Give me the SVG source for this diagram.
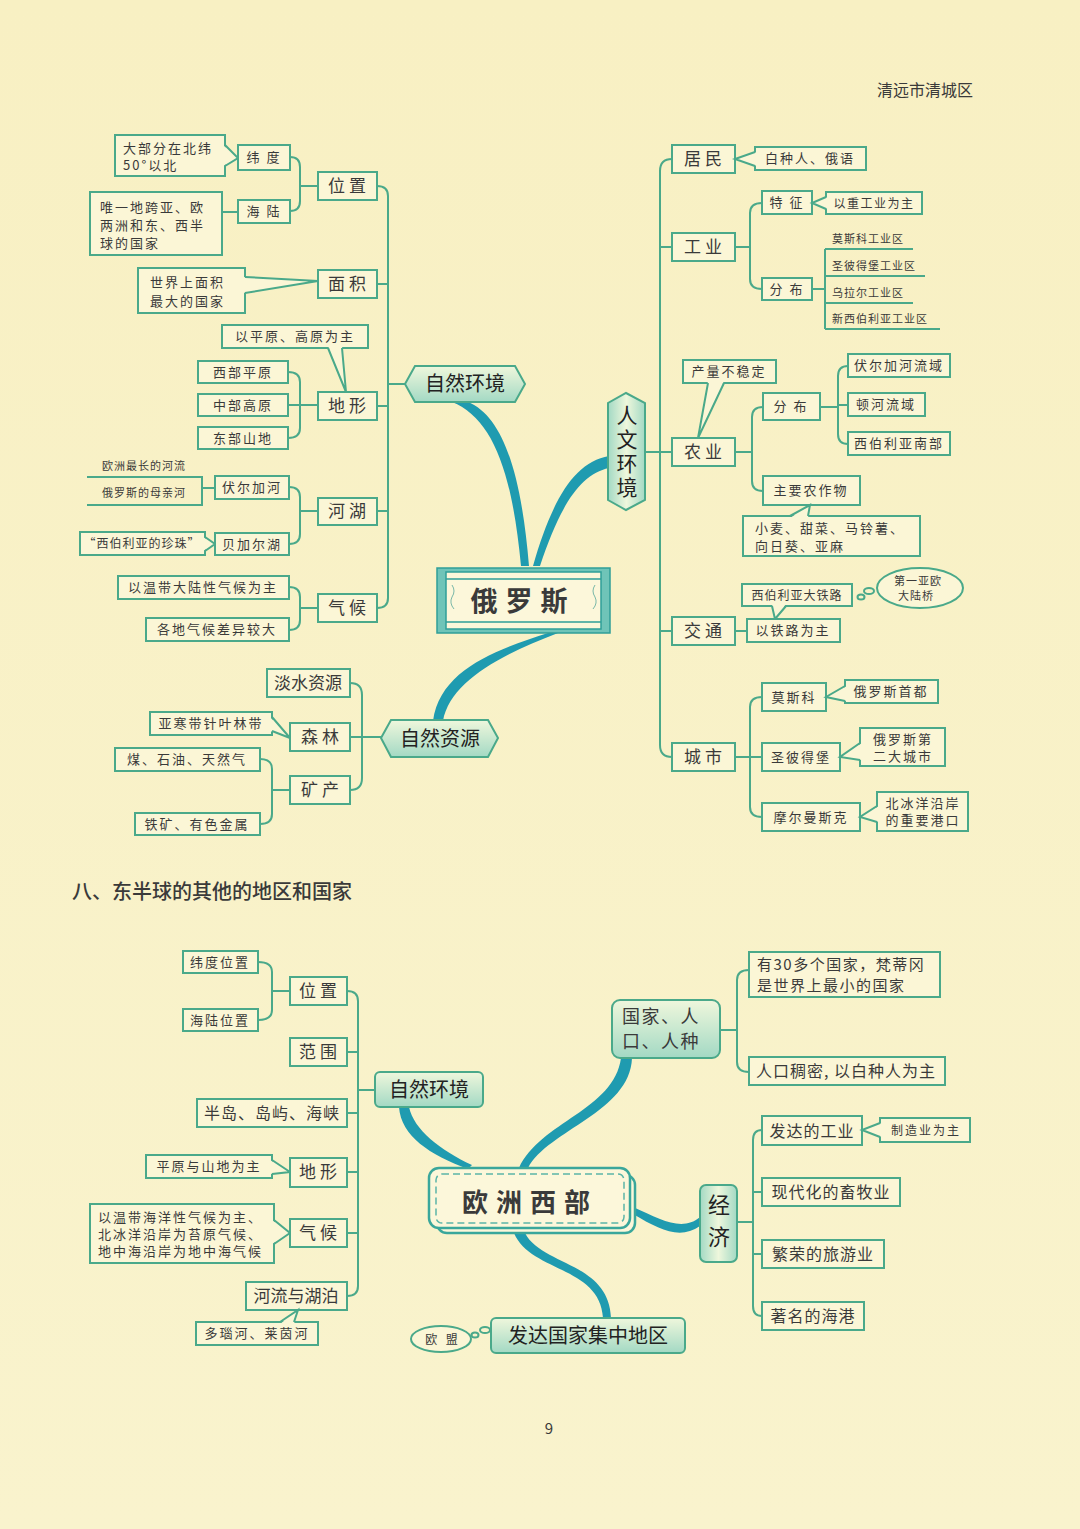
<svg xmlns="http://www.w3.org/2000/svg" width="1080" height="1529" viewBox="0 0 1080 1529">
<defs>
<linearGradient id="bg" x1="0" y1="0" x2="0" y2="1"><stop offset="0" stop-color="#f8f0c3"/><stop offset="1" stop-color="#f9f3cd"/></linearGradient>
<linearGradient id="g1" x1="0" y1="0" x2="0" y2="1"><stop offset="0" stop-color="#eff7dc"/><stop offset="1" stop-color="#a3d9c4"/></linearGradient>
<linearGradient id="g2" x1="0" y1="0" x2="1" y2="0"><stop offset="0" stop-color="#a3d9c4"/><stop offset="0.5" stop-color="#eef7dc"/><stop offset="1" stop-color="#a3d9c4"/></linearGradient>
<style>
.bx{fill:#fbf6d6;stroke:#4aa98a;stroke-width:2}
.gx{fill:url(#g1);stroke:#4aa98a;stroke-width:2}
.vx{fill:url(#g2);stroke:#4aa98a;stroke-width:2}
.ln{fill:none;stroke:#4aa98a;stroke-width:2}
.pf{fill:#fbf6d6}
.rb{fill:#1f9bb0}
text{font-family:"Noto Sans CJK SC","Noto Sans",sans-serif;fill:#3a3a3a}
.s{font-size:13px;letter-spacing:2px}
.xs{font-size:11px;letter-spacing:1px}
.m{font-size:16px;letter-spacing:1px}
.l2{font-size:17px}
.big{font-size:20px;fill:#222}
.c{text-anchor:middle}
.vt{writing-mode:vertical-rl;fill:#222}
</style>
</defs>
<rect x="0" y="0" width="1080" height="1529" fill="url(#bg)"/>
<text x="877" y="96" style="font-size:16px" fill="#333">清远市清城区</text>

<!-- ============ connectors ============ -->
<g id="connectors">
<path class="rb" d="M452,402 C492,418 512,470 521,566 L529,566 C521,470 502,416 468,402 Z"/>
<path class="rb" d="M609,456 C574,462 552,500 533,566 L540,566 C560,506 580,474 609,468 Z"/>
<path class="rb" d="M548,633 C495,650 440,670 433,721 L443,721 C450,682 500,655 558,633 Z"/>
<path class="rb" d="M399,1107 C401,1136 430,1155 468,1169 L472,1165 C440,1150 414,1130 409,1107 Z"/>
<path class="rb" d="M621,1058 C614,1110 540,1122 519,1168 L528,1168 C548,1130 630,1112 632,1058 Z"/>
<path class="rb" d="M633,1207 C662,1220 682,1232 700,1217 L700,1226 C680,1240 660,1230 633,1214 Z"/>
<path class="rb" d="M514,1233 C530,1272 600,1266 603,1318 L611,1318 C609,1262 542,1266 525,1233 Z"/>

<path class="ln" d="M377,186 Q388,186 388,196 L388,598 Q388,608 377,608 M377,284 L388,284 M377,406 L388,406 M377,511 L388,511 M388,384 L405,384"/>
<path class="ln" d="M290,157 Q300,157 300,167 L300,201 Q300,211 290,211 M300,186 L318,186"/>
<path class="ln" d="M222,212 L238,212"/>
<path class="ln" d="M288,372 Q300,372 300,382 L300,428 Q300,438 288,438 M288,405 L318,405"/>
<path class="ln" d="M289,487 Q300,487 300,497 L300,534 Q300,544 289,544 M300,511 L318,511"/>
<path class="ln" d="M87,477 L202,477 L202,505 L87,505 M202,488 L215,488"/>
<path class="ln" d="M289,587 Q300,587 300,597 L300,620 Q300,630 289,630 M300,608 L318,608"/>
<path class="ln" d="M350,683 Q362,683 362,695 L362,778 Q362,790 350,790 M350,737 L382,737"/>
<path class="ln" d="M260,759 Q272,759 272,769 L272,814 Q272,824 260,824 M272,790 L290,790"/>
<path class="ln" d="M672,159 Q660,159 660,171 L660,745 Q660,757 672,757 M660,247 L672,247 M660,452 L672,452 M660,631 L672,631 M645,452 L660,452"/>
<path class="ln" d="M735,247 L750,247 M762,203 Q750,203 750,213 L750,279 Q750,289 762,289"/>
<path class="ln" d="M812,289 L825,289 M825,249 L825,329 M825,249 L913,249 M825,276 L925,276 M825,303 L913,303 M825,329 L940,329"/>
<path class="ln" d="M735,452 L752,452 M763,407 Q752,407 752,417 L752,481 Q752,491 763,491"/>
<path class="ln" d="M820,407 L838,407 M848,366 Q838,366 838,376 L838,434 Q838,444 848,444 M838,405 L848,405"/>
<path class="ln" d="M735,631 L747,631"/>
<path class="ln" d="M735,757 L762,757 M762,697 Q750,697 750,707 L750,807 Q750,817 762,817"/>
<path class="ln" d="M258,962 Q272,962 272,972 L272,1010 Q272,1020 258,1020 M272,991 L290,991"/>
<path class="ln" d="M347,991 Q358,991 358,1001 L358,1286 Q358,1296 347,1296 M347,1052 L358,1052 M347,1113 L358,1113 M347,1172 L358,1172 M347,1233 L358,1233 M358,1090 L375,1090"/>
<path class="ln" d="M720,1030 L737,1030 M749,970 Q737,970 737,980 L737,1062 Q737,1072 749,1072"/>
<path class="ln" d="M737,1222 L753,1222 M762,1130 Q753,1130 753,1140 L753,1306 Q753,1316 762,1316 M753,1192 L762,1192 M753,1254 L762,1254"/>
</g>

<g id="n-latnote"><rect class="bx" x="115" y="135" width="110" height="41"/>
<polygon class="pf" points="223,145 238,158 223,166"/><polyline class="ln" points="225,145 238,158 225,166"/>
<text class="s" x="123" y="153">大部分在北纬</text><text class="s" x="123" y="170">50°以北</text></g>
<g id="n-lat"><rect class="bx" x="238" y="145" width="52" height="25"/><text class="s c" x="264" y="162">纬 度</text></g>
<g id="n-seanote"><rect class="bx" x="90" y="192" width="132" height="63"/>
<text class="s" x="100" y="212">唯一地跨亚、欧</text><text class="s" x="100" y="230">两洲和东、西半</text><text class="s" x="100" y="248">球的国家</text></g>
<g id="n-sea"><rect class="bx" x="238" y="200" width="52" height="23"/><text class="s c" x="264" y="216">海 陆</text></g>
<g id="n-pos"><rect class="bx" x="318" y="172" width="59" height="28"/><text class="l2 c" x="347" y="192">位 置</text></g>
<g id="n-areanote"><rect class="bx" x="138" y="268" width="107" height="45"/>
<polygon class="pf" points="243,277 318,281 243,293"/><polyline class="ln" points="245,277 318,281 245,293"/>
<text class="s" x="150" y="287">世界上面积</text><text class="s" x="150" y="306">最大的国家</text></g>
<g id="n-area"><rect class="bx" x="318" y="270" width="59" height="28"/><text class="l2 c" x="347" y="290">面 积</text></g>
<g id="n-terrnote"><rect class="bx" x="222" y="325" width="146" height="23"/>
<polygon class="pf" points="328,346 346,392 342,346"/><polyline class="ln" points="328,348 346,392 342,348"/>
<text class="s c" x="295" y="341">以平原、高原为主</text></g>
<g id="n-west"><rect class="bx" x="198" y="361" width="90" height="22"/><text class="s c" x="243" y="377">西部平原</text></g>
<g id="n-mid"><rect class="bx" x="198" y="394" width="90" height="22"/><text class="s c" x="243" y="410">中部高原</text></g>
<g id="n-east"><rect class="bx" x="198" y="427" width="90" height="22"/><text class="s c" x="243" y="443">东部山地</text></g>
<g id="n-terr"><rect class="bx" x="318" y="392" width="59" height="28"/><text class="l2 c" x="347" y="412">地 形</text></g>
<g id="n-volganote"><text class="xs" x="102" y="470">欧洲最长的河流</text><text class="xs" x="102" y="497">俄罗斯的母亲河</text></g>
<g id="n-volga"><rect class="bx" x="215" y="476" width="74" height="23"/><text class="s c" x="252" y="492">伏尔加河</text></g>
<g id="n-pearl"><rect class="bx" x="80" y="532" width="125" height="23"/>
<polygon class="pf" points="203,537 215,544 203,551"/><polyline class="ln" points="205,537 215,544 205,551"/>
<text class="c" style="font-size:12px;letter-spacing:1px" x="142" y="548">“西伯利亚的珍珠”</text></g>
<g id="n-baikal"><rect class="bx" x="215" y="533" width="74" height="22"/><text class="s c" x="252" y="549">贝加尔湖</text></g>
<g id="n-river"><rect class="bx" x="318" y="498" width="59" height="27"/><text class="l2 c" x="347" y="517">河 湖</text></g>
<g id="n-clim1"><rect class="bx" x="118" y="576" width="171" height="23"/><text class="s c" x="203" y="592">以温带大陆性气候为主</text></g>
<g id="n-clim2"><rect class="bx" x="146" y="618" width="143" height="23"/><text class="s c" x="217" y="634">各地气候差异较大</text></g>
<g id="n-clim"><rect class="bx" x="318" y="594" width="59" height="28"/><text class="l2 c" x="347" y="614">气 候</text></g>
<g id="n-natenv"><polygon class="gx" points="405,384 415,366 515,366 525,384 515,402 415,402"/><text class="big c" x="465" y="391">自然环境</text></g>

<g id="n-russia">
<rect x="437" y="568" width="173" height="65" fill="#6fc4b8" stroke="#2f9e98" stroke-width="1.5"/>
<rect x="446" y="572" width="155" height="57" fill="#fcf7da" stroke="#2f9e98" stroke-width="1.5"/>
<path d="M446,579 L601,579 M446,622 L601,622" stroke="#2f9e98" stroke-width="1.5" fill="none"/>
<path d="M452,585 q4,6 0,12 q-3,6 2,12 M595,585 q-4,6 0,12 q3,6 -2,12" stroke="#7ab8a8" stroke-width="1" fill="none"/>
<text x="523" y="611" class="c" style="font-size:27px;font-weight:bold;letter-spacing:8px" fill="#222">俄罗斯</text>
</g>

<g id="n-humenv"><polygon class="vx" points="626,393 645,403 645,500 626,510 608,500 608,403"/>
<text class="vt" x="627" y="405" style="font-size:21px;letter-spacing:3px">人文环境</text></g>
<g id="n-res"><rect class="bx" x="672" y="145" width="63" height="28"/><text class="l2 c" x="703" y="165">居 民</text></g>
<g id="n-resnote"><rect class="bx" x="755" y="147" width="111" height="23"/>
<polygon class="pf" points="757,152 735,159 757,166"/><polyline class="ln" points="755,152 735,159 755,166"/>
<text class="s c" x="810" y="163">白种人、俄语</text></g>
<g id="n-ind"><rect class="bx" x="672" y="233" width="63" height="28"/><text class="l2 c" x="703" y="253">工 业</text></g>
<g id="n-feat"><rect class="bx" x="762" y="191" width="50" height="23"/><text class="s c" x="787" y="207">特 征</text></g>
<g id="n-heavy"><rect class="bx" x="826" y="192" width="96" height="22"/>
<polygon class="pf" points="828,197 812,203 828,209"/><polyline class="ln" points="826,197 812,203 826,209"/>
<text class="c" style="font-size:12px;letter-spacing:1.5px" x="874" y="208">以重工业为主</text></g>
<g id="n-dist"><rect class="bx" x="762" y="278" width="50" height="22"/><text class="s c" x="787" y="294">分 布</text></g>
<g id="n-indareas">
<text class="xs" x="832" y="243">莫斯科工业区</text>
<text class="xs" x="832" y="270">圣彼得堡工业区</text>
<text class="xs" x="832" y="297">乌拉尔工业区</text>
<text class="xs" x="832" y="323">新西伯利亚工业区</text></g>
<g id="n-unstable"><rect class="bx" x="683" y="360" width="93" height="23"/>
<polygon class="pf" points="708,381 698,438 724,381"/><polyline class="ln" points="708,383 698,438 724,383"/>
<text class="s c" x="729" y="376">产量不稳定</text></g>
<g id="n-agr"><rect class="bx" x="672" y="438" width="63" height="28"/><text class="l2 c" x="703" y="458">农 业</text></g>
<g id="n-adist"><rect class="bx" x="763" y="393" width="57" height="27"/><text class="s c" x="791" y="411">分 布</text></g>
<g id="n-vb"><rect class="bx" x="848" y="354" width="102" height="23"/><text class="s c" x="899" y="370">伏尔加河流域</text></g>
<g id="n-don"><rect class="bx" x="848" y="393" width="77" height="23"/><text class="s c" x="886" y="409">顿河流域</text></g>
<g id="n-ssib"><rect class="bx" x="848" y="432" width="102" height="23"/><text class="s c" x="899" y="448">西伯利亚南部</text></g>
<g id="n-crops"><rect class="bx" x="763" y="476" width="97" height="29"/><text class="s c" x="811" y="495">主要农作物</text></g>
<g id="n-cropsnote"><rect class="bx" x="743" y="516" width="177" height="40"/>
<polygon class="pf" points="790,518 810,505 808,518"/><polyline class="ln" points="790,516 810,505 808,516"/>
<text class="s" x="755" y="533">小麦、甜菜、马铃薯、</text><text class="s" x="755" y="551">向日葵、亚麻</text></g>
<g id="n-rail"><rect class="bx" x="742" y="584" width="110" height="22"/>
<polygon class="pf" points="772,604 775,620 786,604"/><polyline class="ln" points="772,606 775,619 786,606"/>
<text class="c" style="font-size:12px;letter-spacing:1px" x="797" y="600">西伯利亚大铁路</text></g>
<g id="n-bridge"><ellipse class="bx" cx="920" cy="588" rx="43" ry="20"/>
<ellipse class="ln" cx="861" cy="597" rx="3.5" ry="2.5"/><ellipse class="ln" cx="869" cy="591" rx="5" ry="3"/>
<text class="xs c" x="918" y="585">第一亚欧</text><text class="xs c" x="916" y="600">大陆桥</text></g>
<g id="n-trans"><rect class="bx" x="672" y="617" width="63" height="28"/><text class="l2 c" x="703" y="637">交 通</text></g>
<g id="n-railmain"><rect class="bx" x="747" y="619" width="93" height="23"/><text class="s c" x="793" y="635">以铁路为主</text></g>
<g id="n-city"><rect class="bx" x="672" y="743" width="63" height="28"/><text class="l2 c" x="703" y="763">城 市</text></g>
<g id="n-moscow"><rect class="bx" x="762" y="683" width="64" height="28"/><text class="s c" x="794" y="702">莫斯科</text></g>
<g id="n-capital"><rect class="bx" x="845" y="680" width="93" height="23"/>
<polygon class="pf" points="847,686 826,697 847,701"/><polyline class="ln" points="845,686 826,697 845,701"/>
<text class="s c" x="891" y="696">俄罗斯首都</text></g>
<g id="n-spb"><rect class="bx" x="762" y="743" width="78" height="28"/><text class="s c" x="801" y="762">圣彼得堡</text></g>
<g id="n-second"><rect class="bx" x="860" y="728" width="85" height="38"/>
<polygon class="pf" points="862,743 840,757 862,760"/><polyline class="ln" points="860,743 840,757 860,760"/>
<text class="s c" x="903" y="744">俄罗斯第</text><text class="s c" x="903" y="761">二大城市</text></g>
<g id="n-murm"><rect class="bx" x="762" y="803" width="98" height="28"/><text class="s c" x="811" y="822">摩尔曼斯克</text></g>
<g id="n-port"><rect class="bx" x="877" y="792" width="91" height="39"/>
<polygon class="pf" points="879,806 860,817 879,822"/><polyline class="ln" points="877,806 860,817 877,822"/>
<text class="s c" x="923" y="808">北冰洋沿岸</text><text class="s c" x="923" y="825">的重要港口</text></g>

<g id="n-natres"><polygon class="gx" points="381,738 391,720 488,720 498,738 488,757 391,757"/><text class="big c" x="440" y="746">自然资源</text></g>
<g id="n-water"><rect class="bx" x="267" y="669" width="83" height="28"/><text class="l2 c" x="308" y="689">淡水资源</text></g>
<g id="n-forest"><rect class="bx" x="290" y="723" width="60" height="28"/><text class="l2 c" x="320" y="743">森 林</text></g>
<g id="n-taiga"><rect class="bx" x="150" y="712" width="122" height="23"/>
<polygon class="pf" points="270,717 290,738 270,731"/><polyline class="ln" points="272,717 290,738 272,731"/>
<text class="s c" x="211" y="728">亚寒带针叶林带</text></g>
<g id="n-mine"><rect class="bx" x="290" y="776" width="60" height="28"/><text class="l2 c" x="320" y="796">矿 产</text></g>
<g id="n-coal"><rect class="bx" x="115" y="748" width="145" height="23"/><text class="s c" x="187" y="764">煤、石油、天然气</text></g>
<g id="n-iron"><rect class="bx" x="135" y="813" width="125" height="22"/><text class="s c" x="197" y="829">铁矿、有色金属</text></g>

<text x="72" y="899" style="font-size:20px;font-weight:500" fill="#222">八、东半球的其他的地区和国家</text>

<g id="w-lat"><rect class="bx" x="183" y="951" width="75" height="22"/><text class="s c" x="220" y="967">纬度位置</text></g>
<g id="w-sea"><rect class="bx" x="183" y="1009" width="75" height="22"/><text class="s c" x="220" y="1025">海陆位置</text></g>
<g id="w-pos"><rect class="bx" x="290" y="977" width="57" height="28"/><text class="l2 c" x="318" y="997">位 置</text></g>
<g id="w-range"><rect class="bx" x="290" y="1038" width="57" height="28"/><text class="l2 c" x="318" y="1058">范 围</text></g>
<g id="w-natenv"><rect class="gx" x="375" y="1072" width="108" height="35" rx="5"/><text class="big c" x="429" y="1097">自然环境</text></g>
<g id="w-pen"><rect class="bx" x="197" y="1099" width="150" height="28"/><text class="m c" x="272" y="1119">半岛、岛屿、海峡</text></g>
<g id="w-terrnote"><rect class="bx" x="146" y="1155" width="126" height="23"/>
<polygon class="pf" points="270,1160 290,1172 270,1174"/><polyline class="ln" points="272,1160 290,1172 272,1174"/>
<text class="s c" x="209" y="1171">平原与山地为主</text></g>
<g id="w-terr"><rect class="bx" x="290" y="1158" width="57" height="29"/><text class="l2 c" x="318" y="1178">地 形</text></g>
<g id="w-climnote"><rect class="bx" x="90" y="1204" width="184" height="59"/>
<polygon class="pf" points="272,1220 290,1233 272,1244"/><polyline class="ln" points="274,1220 290,1233 274,1244"/>
<text class="s" x="98" y="1222">以温带海洋性气候为主、</text><text class="s" x="98" y="1239">北冰洋沿岸为苔原气候、</text><text class="s" x="98" y="1256">地中海沿岸为地中海气候</text></g>
<g id="w-clim"><rect class="bx" x="290" y="1219" width="57" height="28"/><text class="l2 c" x="318" y="1239">气 候</text></g>
<g id="w-river"><rect class="bx" x="246" y="1282" width="101" height="28"/><text class="l2 c" x="296" y="1302">河流与湖泊</text></g>
<g id="w-rivernote"><rect class="bx" x="196" y="1322" width="122" height="23"/>
<polygon class="pf" points="280,1324 298,1310 294,1324"/><polyline class="ln" points="280,1322 298,1310 294,1322"/>
<text class="s c" x="257" y="1338">多瑙河、莱茵河</text></g>

<g id="w-center">
<rect x="437" y="1175" width="198" height="58" rx="10" fill="#fcf7da" stroke="#3aa79b" stroke-width="2.5"/>
<rect x="429" y="1168" width="201" height="60" rx="10" fill="#fcf7da" stroke="#3aa79b" stroke-width="2.5"/>
<rect x="436" y="1174" width="188" height="49" rx="6" fill="none" stroke="#5bb5a8" stroke-width="1.5" stroke-dasharray="7,4"/>
<text x="530" y="1212" class="c" style="font-size:26px;font-weight:bold;letter-spacing:8px" fill="#222">欧洲西部</text>
</g>

<g id="w-country"><rect class="gx" x="612" y="1000" width="108" height="58" rx="8"/>
<text x="622" y="1023" style="font-size:18px;letter-spacing:1.5px" fill="#222">国家、人</text><text x="622" y="1048" style="font-size:18px;letter-spacing:1.5px" fill="#222">口、人种</text></g>
<g id="w-count"><rect class="bx" x="749" y="952" width="191" height="45"/>
<text x="757" y="970" style="font-size:15px;letter-spacing:1.5px">有30多个国家，梵蒂冈</text><text x="757" y="991" style="font-size:15px;letter-spacing:1.5px">是世界上最小的国家</text></g>
<g id="w-pop"><rect class="bx" x="749" y="1057" width="196" height="28"/><text class="m" x="756" y="1077">人口稠密, 以白种人为主</text></g>
<g id="w-econ"><rect class="vx" x="700" y="1185" width="37" height="77" rx="6"/>
<text class="vt" x="719" y="1194" style="font-size:22px;letter-spacing:10px">经济</text></g>
<g id="w-ind"><rect class="bx" x="762" y="1116" width="100" height="29"/><text class="m c" x="812" y="1137">发达的工业</text></g>
<g id="w-manu"><rect class="bx" x="880" y="1118" width="90" height="24"/>
<polygon class="pf" points="882,1123 862,1130 882,1137"/><polyline class="ln" points="880,1123 862,1130 880,1137"/>
<text class="c" style="font-size:12px;letter-spacing:2px" x="926" y="1135">制造业为主</text></g>
<g id="w-live"><rect class="bx" x="762" y="1178" width="138" height="28"/><text class="m c" x="831" y="1198">现代化的畜牧业</text></g>
<g id="w-tour"><rect class="bx" x="762" y="1240" width="122" height="28"/><text class="m c" x="823" y="1260">繁荣的旅游业</text></g>
<g id="w-port"><rect class="bx" x="762" y="1302" width="102" height="28"/><text class="m c" x="813" y="1322">著名的海港</text></g>
<g id="w-dev"><rect class="gx" x="491" y="1318" width="194" height="35" rx="5"/><text class="big c" x="588" y="1343">发达国家集中地区</text></g>
<g id="w-eu"><ellipse class="bx" cx="441" cy="1339" rx="30" ry="13"/>
<ellipse class="ln" cx="475" cy="1335" rx="3.5" ry="2.5"/><ellipse class="ln" cx="485" cy="1330" rx="5" ry="3"/>
<text class="c" style="font-size:12px;letter-spacing:3px" x="443" y="1344">欧 盟</text></g>

<text x="549" y="1434" class="c" style="font-size:15px" fill="#333">9</text>
</svg>
